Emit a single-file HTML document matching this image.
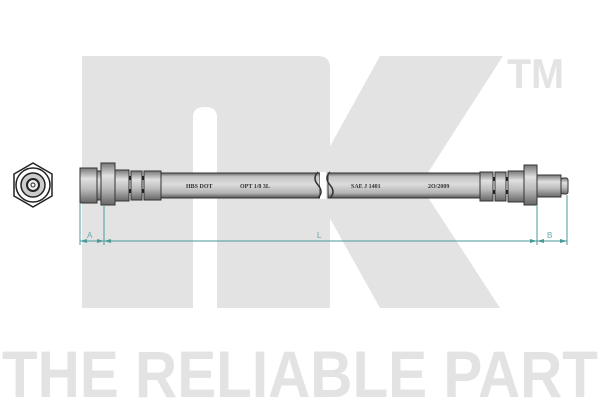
<!DOCTYPE html>
<html><head><meta charset="utf-8"><style>
html,body{margin:0;padding:0;background:#fff;}
svg{display:block;}
</style></head><body>
<svg width="600" height="400" viewBox="0 0 600 400" xmlns="http://www.w3.org/2000/svg">
<defs>
<linearGradient id="tube" x1="0" y1="0" x2="0" y2="1">
<stop offset="0" stop-color="#666"/><stop offset="0.15" stop-color="#c4c4c4"/><stop offset="0.45" stop-color="#dcdcdc"/><stop offset="0.8" stop-color="#b4b4b4"/><stop offset="1" stop-color="#555"/>
</linearGradient>
<linearGradient id="metal" x1="0" y1="0" x2="0" y2="1">
<stop offset="0" stop-color="#777"/><stop offset="0.3" stop-color="#e0e0e0"/><stop offset="0.6" stop-color="#bdbdbd"/><stop offset="1" stop-color="#666"/>
</linearGradient>
</defs>
<g fill="#e3e3e3">
<path d="M82 56 H318 Q330 56 330 68 V308 H217 V117 Q217 107 205 107 Q193 107 193 117 V308 H82 Z"/>
<polygon points="328,150 380,56 503,56 420,185 500,308 380,308 328,215"/>
<text x="507" y="88" font-family="Liberation Sans, sans-serif" font-weight="bold" font-size="42" textLength="57" lengthAdjust="spacingAndGlyphs">TM</text>
<text x="2" y="397" font-family="Liberation Sans, sans-serif" font-weight="bold" font-size="66" textLength="596" lengthAdjust="spacingAndGlyphs">THE RELIABLE PART</text>
</g>
<g stroke="#222" fill="none">
<polygon points="33,163 52,174 52,196 33,207 14,196 14,174" stroke-width="1.5" fill="#fff"/>
<circle cx="33" cy="185" r="17" stroke-width="1.5"/>
<circle cx="33" cy="185" r="12" fill="#ccc" stroke-width="1.5"/>
<circle cx="33" cy="185" r="6" fill="#eee" stroke-width="2"/>
<circle cx="33" cy="185" r="2" fill="#fff"/>
</g>
<g stroke="#333" stroke-width="1">
<rect x="160" y="173" width="160" height="25" fill="url(#tube)"/>
<rect x="328" y="173" width="154" height="25" fill="url(#tube)"/>
</g>
<rect x="320" y="172" width="6" height="27" fill="#fff"/>
<path d="M318 172 q-6 6 0 13 q6 7 0 13 M330 172 q-6 6 0 13 q6 7 0 13" stroke="#333" stroke-width="1.5" fill="none"/>
<g font-family="Liberation Serif, serif" font-size="6" font-weight="bold" fill="#333">
<text x="186" y="188">HBS DOT</text><text x="240" y="188">OPT 1/8 3L</text>
<text x="351" y="188">SAE J 1401</text><text x="428" y="188">2O/2009</text>
</g>
<g stroke="#333" stroke-width="1" fill="url(#metal)">
<rect x="80" y="168" width="17" height="35"/>
<rect x="97" y="171" width="4" height="29"/>
<rect x="101" y="163" width="14" height="42"/>
<rect x="115" y="170" width="14" height="31"/>
<rect x="131" y="171" width="11" height="29"/>
<rect x="144" y="171" width="17" height="29"/>
</g>
<g fill="#222"><rect x="129" y="176" width="2" height="4"/><rect x="129" y="189" width="2" height="4"/><rect x="142" y="176" width="2" height="4"/><rect x="142" y="189" width="2" height="4"/></g>
<g stroke="#333" stroke-width="1" fill="url(#metal)">
<rect x="480" y="172" width="13" height="29"/>
<rect x="495" y="172" width="11" height="29"/>
<rect x="508" y="171" width="16" height="31"/>
<rect x="524" y="165" width="13" height="40"/>
<rect x="537" y="175" width="24" height="22"/>
<rect x="561" y="178" width="7" height="16" rx="2"/>
</g>
<g fill="#222"><rect x="493" y="177" width="2" height="4"/><rect x="493" y="190" width="2" height="4"/><rect x="506" y="177" width="2" height="4"/><rect x="506" y="190" width="2" height="4"/></g>
<g stroke="#4a9999" stroke-width="1" fill="none">
<line x1="80" y1="204" x2="80" y2="245"/>
<line x1="104" y1="206" x2="104" y2="245"/>
<line x1="537" y1="206" x2="537" y2="245"/>
<line x1="567" y1="195" x2="567" y2="245"/>
<line x1="80" y1="241" x2="567" y2="241"/>
</g>
<g fill="#4a9999">
<polygon points="80,241 87,239 87,243"/><polygon points="104,241 97,239 97,243"/>
<polygon points="104,241 111,239 111,243"/><polygon points="537,241 530,239 530,243"/>
<polygon points="537,241 544,239 544,243"/><polygon points="567,241 560,239 560,243"/>
</g>
<g font-family="Liberation Sans, sans-serif" font-size="8" fill="#6aa">
<text x="87" y="238">A</text><text x="317" y="238">L</text><text x="547" y="238">B</text>
</g>
</svg>
</body></html>
